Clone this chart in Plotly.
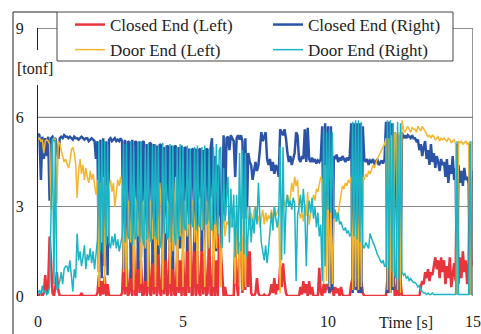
import numpy as np
import plotly.graph_objects as go

# sampling grid: 0 .. 15 s every 0.05 s (301 samples)
time_s = np.round(np.arange(301) * 0.05, 2)

# [tonf] values, one row per second
closed_left = [
    0, 0.05, 0.1, 0, 0.1, 0.7, 0.1, 0.3, 2.0, 1.2, 0.1, 0, 0.3, 0.8, 0.2, 0, 0, 0, 0, 0,
    0, 0, 0, 0, 0, 0, 0, 0, 0, 0, 0.1, 0, 0, 0, 0, 0, 0, 0, 0, 0,
    0, 0.1, 0.7, 0, 0.5, 0.05, 0.65, 0, 0.4, 0, 0, 0, 0, 0, 0, 0, 0, 0, 0.1, 1.3,
    0.05, 1.3, 0, 0.1, 0.9, 0, 2.1, 0.05, 0, 1.6, 0.1, 1.2, 0, 0.05, 0.8, 0, 1.9, 0.1, 0, 1.4,
    0.05, 1.4, 0, 1.6, 0.1, 0, 1.1, 0.05, 1.5, 0, 0.1, 2.0, 0, 1.3, 0.05, 0, 1.5, 0.1, 1.2, 0,
    1.5, 0.05, 0, 2.3, 0.1, 3.3, 0, 0.05, 2.3, 0, 1.5, 0.1, 0, 2.0, 0.05, 1.4, 0, 0.1, 2.3, 0.05,
    0, 1.4, 0, 1.2, 0, 2.1, 1.6, 0.6, 0, 0.3, 0, 0, 0, 0, 0, 0, 1.9, 0.4, 0, 1.7,
    1.8, 0.1, 2.0, 0.2, 1.9, 0.3, 1.5, 0.1, 0, 0, 0.1, 0.6, 0.1, 0, 0, 0, 0.05, 0, 0, 0,
    0.1, 0.4, 0.1, 0.6, 0.05, 0.4, 0.2, 1.0, 0.3, 1.1, 0.5, 0.1, 0, 0, 0, 0, 0, 0, 0, 0,
    0, 0.3, 0.05, 0.5, 0.1, 0.4, 0, 0.5, 0.05, 0.3, 0, 0, 0, 0, 0.95, 0.1, 0, 0.4, 0.1, 0.4,
    0.3, 0.1, 0.2, 0.3, 0, 0.3, 0.1, 0.25, 0, 0.3, 0.05, 0, 0, 0, 0, 0, 0.4, 0.6, 0.3, 0.5,
    0.2, 0.6, 0.1, 0.5, 0.1, 0, 0, 0, 0, 0, 0, 0, 0, 0, 0, 0, 0, 0, 0, 0,
    0, 0.6, 0.1, 4.4, 0.2, 1.3, 0, 0, 0.6, 0, 0.5, 0, 0, 0, 0, 0, 0, 0, 0, 0,
    0, 0, 0, 0, 0.3, 0.5, 0.4, 0.8, 0.6, 0.9, 0.5, 0.8, 0.7, 1.0, 1.3, 0.9, 1.2, 0.6, 1.3, 0.8,
    1.2, 0.4, 1.0, 0.6, 1.3, 0.3, 0.8, 1.1, 0.5, 5.1, 0.4, 1.3, 0.6, 1.5, 0.8, 1.2, 0.4, 1.1, 5.1, 1.0,
    1.2,
]

closed_right = [
    5.45, 5.40, 3.90, 5.35, 4.60, 5.30, 4.70, 5.35, 3.20, 5.30, 5.35, 5.25, 5.30, 4.90, 4.60, 5.30, 5.35, 5.30, 5.40, 5.35,
    5.35, 5.30, 5.35, 5.30, 5.25, 5.35, 5.30, 5.30, 5.25, 5.30, 5.35, 5.30, 5.25, 5.30, 5.30, 5.20, 5.25, 5.30, 5.25, 5.20,
    4.60, 5.20, 0.80, 5.25, 0.60, 5.30, 1.00, 5.20, 0.70, 5.25, 5.30, 5.20, 5.25, 5.30, 5.20, 5.25, 5.20, 5.30, 5.20, 0.90,
    5.25, 1.20, 5.20, 5.15, 0.60, 5.25, 1.50, 5.20, 5.15, 0.90, 5.20, 1.30, 5.15, 5.20, 0.50, 5.10, 1.60, 5.15, 5.10, 1.10,
    5.10, 1.00, 5.05, 1.40, 5.10, 5.05, 0.70, 5.00, 1.20, 5.05, 5.00, 1.50, 5.05, 0.90, 5.00, 5.05, 1.30, 5.00, 1.60, 5.05,
    1.60, 4.95, 5.00, 1.50, 4.95, 1.70, 4.90, 4.95, 1.50, 4.95, 1.60, 4.90, 4.95, 1.50, 4.90, 1.70, 4.95, 4.90, 1.60, 4.95,
    5.30, 1.60, 4.70, 1.50, 4.40, 4.25, 1.70, 2.70, 5.40, 2.70, 5.30, 5.35, 4.90, 5.40, 5.30, 5.20, 4.00, 5.30, 5.40, 5.25,
    5.40, 5.20, 2.60, 5.30, 2.60, 4.80, 4.50, 4.40, 3.90, 4.30, 4.50, 4.20, 4.40, 4.90, 5.50, 5.20, 5.40, 5.50, 4.60, 4.40,
    4.60, 4.20, 4.50, 4.10, 4.40, 4.30, 4.00, 5.60, 5.50, 5.40, 5.60, 5.30, 4.80, 4.50, 4.70, 4.40, 4.60, 4.80, 5.50, 5.40,
    4.60, 4.50, 4.70, 4.60, 5.60, 4.50, 5.65, 4.60, 4.50, 4.65, 4.50, 4.60, 4.45, 4.55, 4.50, 4.60, 5.70, 1.50, 5.80, 2.00,
    5.70, 0.10, 5.70, 0.20, 4.70, 4.60, 4.75, 4.50, 4.65, 4.55, 4.70, 4.60, 4.50, 4.65, 4.55, 4.70, 5.80, 0.10, 5.80, 0.20,
    5.80, 0.10, 5.80, 0.10, 5.70, 4.60, 4.50, 4.60, 4.40, 4.55, 4.50, 4.60, 4.45, 4.50, 4.60, 4.40, 4.50, 4.55, 4.45, 4.60,
    5.85, 0.10, 5.85, 0.10, 5.80, 0.20, 5.50, 5.30, 0.20, 5.40, 0.10, 5.50, 5.30, 5.40, 5.30, 5.40, 5.35, 5.30, 5.40, 5.30,
    5.30, 5.20, 5.25, 4.90, 5.10, 4.70, 5.00, 5.20, 4.60, 4.90, 4.40, 5.10, 4.50, 4.80, 4.30, 4.70, 4.50, 4.20, 4.60, 4.40,
    4.50, 4.00, 4.60, 3.80, 4.40, 4.10, 4.70, 3.90, 4.30, 0.05, 4.40, 3.80, 4.20, 3.70, 4.30, 3.90, 4.00, 3.80, 0.05, 3.90,
    4.20,
]

door_left = [
    5.25, 5.30, 5.20, 5.25, 4.80, 5.20, 5.25, 5.20, 5.10, 2.90, 5.20, 5.30, 5.25, 3.10, 5.20, 5.10, 4.90, 4.70, 4.50, 4.60,
    4.40, 4.30, 4.50, 4.90, 5.00, 4.80, 4.40, 3.30, 4.20, 4.60, 4.10, 4.40, 3.90, 4.30, 4.00, 3.80, 4.20, 3.90, 4.10, 3.70,
    3.40, 3.90, 0.30, 3.80, 1.80, 4.00, 0.40, 3.70, 2.00, 3.60, 3.90, 3.50, 3.80, 3.00, 3.60, 3.90, 3.70, 4.00, 3.60, 0.80,
    3.10, 0.30, 3.20, 3.00, 1.80, 3.10, 0.20, 3.30, 3.10, 2.00, 2.90, 0.40, 3.10, 3.20, 1.60, 3.00, 0.30, 3.10, 3.20, 1.90,
    3.00, 0.30, 3.10, 1.70, 3.80, 3.00, 0.20, 2.90, 2.10, 3.20, 3.10, 0.40, 3.00, 1.50, 3.10, 4.00, 0.30, 3.00, 2.00, 3.10,
    0.30, 3.20, 3.10, 2.00, 3.30, 0.30, 3.00, 3.20, 1.80, 3.20, 0.40, 3.10, 3.30, 2.20, 3.00, 0.30, 3.20, 3.10, 1.60, 3.20,
    3.30, 0.30, 3.00, 1.60, 2.80, 2.60, 0.30, 2.40, 2.70, 2.00, 2.50, 2.40, 2.70, 2.30, 2.50, 2.40, 0.40, 2.10, 2.30, 0.30,
    3.20, 0.20, 3.10, 0.30, 3.00, 2.60, 2.20, 2.80, 2.40, 2.90, 3.00, 2.50, 2.70, 2.30, 2.60, 2.90, 2.40, 2.80, 2.50, 2.70,
    2.60, 2.90, 2.50, 3.00, 2.70, 2.80, 3.00, 0.10, 3.10, 3.40, 3.00, 3.20, 3.40, 3.10, 3.30, 3.80, 3.50, 4.00, 3.70, 3.90,
    2.90, 2.60, 2.80, 2.50, 3.10, 2.70, 3.50, 2.40, 2.70, 3.00, 3.40, 3.20, 3.60, 3.50, 3.80, 4.00, 3.90, 0.40, 4.40, 0.50,
    4.20, 0.30, 3.00, 0.40, 2.60, 2.50, 2.80, 2.70, 3.10, 3.40, 3.70, 3.60, 3.80, 3.70, 3.90, 3.80, 4.00, 0.20, 3.90, 0.30,
    3.80, 0.20, 3.90, 0.30, 4.00, 3.90, 4.10, 4.00, 4.20, 4.10, 4.30, 4.40, 4.30, 4.50, 4.60, 4.70, 4.80, 4.90, 5.00, 5.10,
    5.30, 0.20, 5.30, 0.10, 5.40, 0.30, 5.50, 5.40, 0.20, 5.50, 0.10, 5.90, 5.60, 5.50, 5.60, 5.70, 5.60, 5.50, 5.65, 5.60,
    5.60, 5.50, 5.70, 5.60, 5.55, 5.70, 5.60, 5.50, 5.40, 5.35, 5.40, 5.30, 5.40, 5.35, 5.25, 5.30, 5.35, 5.20, 5.30, 5.25,
    5.30, 5.25, 5.20, 5.30, 5.25, 5.15, 5.20, 5.25, 5.10, 0.05, 5.20, 5.15, 5.20, 5.10, 5.15, 5.20, 5.10, 5.15, 0.05, 5.20,
    5.10,
]

door_right = [
    0.10, 0.20, 0.05, 0.35, 0.10, 0.20, 0.05, 0.10, 0.30, 2.50, 5.30, 0.40, 5.25, 0.20, 0.30, 0.50, 0.80, 0.40, 0.90, 1.00,
    1.00, 0.80, 1.20, 0.70, 0.15, 0.90, 0.60, 2.10, 1.20, 1.50, 1.00, 1.30, 1.70, 0.90, 1.40, 1.20, 1.60, 1.10, 1.50, 0.90,
    1.30, 1.90, 5.20, 1.50, 5.25, 1.40, 5.20, 1.70, 5.10, 1.80, 1.60, 2.00, 1.70, 2.10, 1.60, 1.90, 1.50, 1.80, 2.00, 5.10,
    1.80, 5.10, 2.00, 1.90, 5.20, 1.70, 5.05, 1.90, 2.10, 5.15, 1.80, 5.20, 2.00, 1.70, 5.00, 1.90, 5.10, 2.20, 1.80, 5.05,
    2.00, 5.10, 1.90, 5.00, 1.60, 1.80, 5.15, 2.10, 5.05, 1.90, 2.00, 5.10, 1.80, 5.05, 2.10, 1.70, 5.00, 1.90, 5.10, 2.10,
    5.00, 2.30, 2.20, 5.05, 2.40, 4.95, 2.50, 2.30, 5.00, 2.20, 5.05, 2.40, 2.30, 5.00, 2.20, 5.05, 2.40, 2.50, 4.95, 2.30,
    2.20, 5.00, 2.40, 5.10, 2.00, 4.90, 5.00, 1.60, 4.30, 2.50, 3.30, 4.00, 1.80, 3.60, 2.30, 3.40, 1.30, 3.40, 1.40, 4.80,
    1.50, 4.90, 1.40, 4.80, 1.30, 2.20, 3.00, 1.80, 2.60, 2.10, 3.00, 2.40, 3.80, 2.70, 1.80, 1.50, 1.20, 1.70, 1.10, 1.60,
    2.40, 2.80, 2.20, 3.00, 2.60, 2.30, 2.70, 5.00, 1.20, 5.00, 1.40, 2.90, 3.40, 3.00, 3.20, 2.90, 3.30, 3.10, 0.50, 2.70,
    3.00, 3.40, 2.80, 3.60, 2.90, 1.00, 2.70, 3.20, 2.80, 3.30, 2.60, 3.00, 2.30, 2.80, 2.00, 2.40, 0.50, 5.60, 1.00, 5.50,
    2.90, 5.60, 2.80, 5.50, 2.60, 2.90, 2.50, 2.80, 2.40, 2.50, 2.30, 2.20, 2.30, 2.10, 2.20, 2.00, 2.10, 5.85, 2.00, 5.90,
    1.90, 5.90, 1.80, 5.85, 1.70, 1.60, 1.80, 1.70, 1.60, 2.10, 1.90, 1.80, 1.70, 1.50, 1.40, 1.30, 1.20, 1.10, 1.20, 1.00,
    1.00, 5.90, 0.90, 5.90, 0.80, 5.80, 0.70, 0.60, 5.85, 0.55, 5.80, 0.80, 0.70, 0.75, 0.60, 0.65, 0.50, 0.60, 0.50, 0.45,
    0.45, 0.40, 0.30, 0.35, 0.20, 0.15, 0.10, 0.10, 0.05, 0.10, 0.05, 0.05, 0.10, 0.05, 0.05, 0.05, 0.05, 0.05, 0.05, 0.05,
    0.05, 0.05, 0.05, 0.05, 0.05, 0.05, 0.05, 0.05, 0.05, 5.20, 0.05, 0.05, 0.05, 0.05, 0.05, 0.05, 0.05, 0.05, 5.20, 0.05,
    0.05,
]

series_names = ["Closed End (Left)", "Closed End (Right)", "Door End (Left)", "Door End (Right)"]
series_values = [closed_left, closed_right, door_left, door_right]
series_colors = ["#e8353b", "#2b54a6", "#f7b52c", "#1bb5c6"]
series_widths = [2.5, 2.5, 1.5, 1.5]

x_tick_vals = [0, 5, 10, 15]
y_tick_vals = [0, 3, 6, 9]

FONT = "Liberation Serif"

fig = go.Figure()
for name, vals, col, w in zip(series_names, series_values, series_colors, series_widths):
    fig.add_trace(go.Scatter(x=time_s, y=vals, mode="lines", name=name,
                             line=dict(color=col, width=w)))

# pixel helpers for decorations (plot area: x 38..473, y 28..296)
W, H = 481, 334
L, R, T, B = 38, 8, 28, 38
pw, ph = W - L - R, H - T - B
def px(x):
    return (x - L) / pw
def py(y):
    return (H - B - y) / ph

shapes = [
    # darker grid line at 6 (below data)
    dict(type="line", xref="x", yref="y", x0=0, x1=15, y0=6, y1=6,
         line=dict(color="#4a4a4a", width=1), layer="below"),
    # top frame line at 9 and right frame line
    dict(type="line", xref="x", yref="y", x0=0, x1=15, y0=9, y1=9,
         line=dict(color="#222", width=1), layer="above"),
    dict(type="line", xref="x", yref="y", x0=15, x1=15, y0=0, y1=9,
         line=dict(color="#777", width=1.5), layer="above"),
    # outer frame (left + top)
    dict(type="line", xref="paper", yref="paper", x0=px(13), x1=px(13), y0=py(345), y1=py(12),
         line=dict(color="#222", width=1), layer="above"),
    dict(type="line", xref="paper", yref="paper", x0=px(13), x1=px(57), y0=py(12), y1=py(12),
         line=dict(color="#222", width=1), layer="above"),
    # gap in the y axis line behind the unit label
    dict(type="rect", xref="paper", yref="paper", x0=px(31), x1=px(45), y0=py(85), y1=py(50),
         fillcolor="white", line=dict(width=0), layer="above"),
    # legend box
    dict(type="rect", xref="paper", yref="paper", x0=px(57), x1=px(453), y0=py(61), y1=py(12),
         fillcolor="white", line=dict(color="#444", width=1), layer="above"),
]

annotations = [
    dict(text="[tonf]", xref="paper", yref="paper", x=px(34.5), y=py(68),
         showarrow=False, xanchor="center", yanchor="middle",
         font=dict(family=FONT, size=16, color="#222")),
    dict(text="Time [s]", xref="paper", yref="paper", x=px(406), y=py(322),
         showarrow=False, xanchor="center", yanchor="middle",
         font=dict(family=FONT, size=16, color="#222")),
]

fig.update_layout(
    width=W, height=H,
    margin=dict(l=L, r=R, t=T, b=B, autoexpand=False),
    paper_bgcolor="white", plot_bgcolor="white",
    font=dict(family=FONT, size=16, color="#222"),
    showlegend=True,
    legend=dict(orientation="h", x=px(70), xanchor="left", y=py(7), yanchor="top",
                entrywidth=153, entrywidthmode="pixels", bgcolor="rgba(0,0,0,0)",
                borderwidth=0, font=dict(family=FONT, size=17, color="#222"),
                traceorder="normal"),
    xaxis=dict(range=[0, 15], tickvals=x_tick_vals, showgrid=False, zeroline=False,
               showline=False, ticks="", ticklabelstandoff=14),
    yaxis=dict(range=[0, 9], tickvals=y_tick_vals, showgrid=True, gridcolor="#888",
               gridwidth=1, zeroline=False, showline=True, linecolor="#222", linewidth=1,
               ticks="", ticklabelstandoff=10),
    shapes=shapes,
    annotations=annotations,
)

fig.write_html("out.html", config={"displayModeBar": False},
               post_script="document.body.style.margin='0';")
